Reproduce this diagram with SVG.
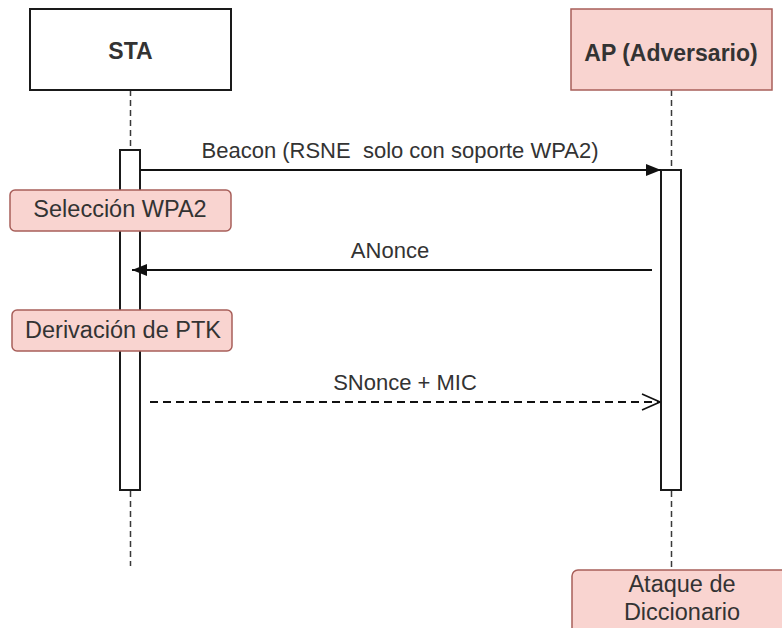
<svg xmlns="http://www.w3.org/2000/svg" width="782" height="628" viewBox="0 0 782 628">
  <style>
    text { font-family: "Liberation Sans", Arial, sans-serif; fill: #333333; text-anchor: middle; }
    .head { font-size: 23px; font-weight: bold; }
    .msg { font-size: 22px; }
    .note-t { font-size: 23.5px; }
    .box { fill: #ffffff; stroke: #1a1a1a; stroke-width: 2; }
    .pink { fill: #f9d4d0; stroke: #a85f5a; stroke-width: 1.5; }
    .life { stroke: #3a3a3a; stroke-width: 1.5; stroke-dasharray: 6 4; fill: none; }
    .act { fill: #ffffff; stroke: #1a1a1a; stroke-width: 2; }
    .solid { stroke: #111111; stroke-width: 2; fill: none; }
    .dashed { stroke: #111111; stroke-width: 2; fill: none; stroke-dasharray: 8 5; }
  </style>
  <defs>
    <marker id="block" viewBox="0 0 15 12" refX="15" refY="6" markerWidth="15" markerHeight="12" markerUnits="userSpaceOnUse" orient="auto">
      <path d="M0,0 L15,6 L0,12 Z" fill="#111111"/>
    </marker>
    <marker id="open" viewBox="0 0 20 18" refX="19" refY="9" markerWidth="20" markerHeight="18" markerUnits="userSpaceOnUse" orient="auto">
      <path d="M1,1 L19,9 L1,17" fill="none" stroke="#111111" stroke-width="1.6"/>
    </marker>
  </defs>

  <rect width="782" height="628" fill="#ffffff"/>

  <!-- lifelines -->
  <g id="lifelines">
    <line class="life" x1="130.5" y1="90" x2="130.5" y2="150"/>
    <line class="life" x1="130.5" y1="491" x2="130.5" y2="566"/>
    <line class="life" x1="671.5" y1="90" x2="671.5" y2="170"/>
    <line class="life" x1="671.5" y1="491" x2="671.5" y2="570"/>
  </g>

  <!-- participants -->
  <g id="sta">
    <rect class="box" x="30" y="9" width="201" height="81"/>
    <text class="head" x="130.5" y="59">STA</text>
  </g>
  <g id="ap">
    <rect class="pink" x="571" y="9" width="201" height="81"/>
    <text class="head" x="671" y="61">AP (Adversario)</text>
  </g>

  <!-- activation bars -->
  <g id="sta-activation">
    <rect class="act" x="120" y="150" width="20" height="340"/>
  </g>
  <g id="ap-activation">
    <rect class="act" x="661" y="170" width="20" height="320"/>
  </g>

  <!-- notes -->
  <g id="note-seleccion">
    <rect class="pink" x="10" y="190" width="221" height="41" rx="5"/>
    <text class="note-t" x="120" y="217">Selección WPA2</text>
  </g>
  <g id="note-derivacion">
    <rect class="pink" x="12" y="310" width="220" height="41" rx="5"/>
    <text class="note-t" x="123" y="337.5">Derivación de PTK</text>
  </g>
  <g id="note-ataque">
    <rect class="pink" x="572" y="570" width="220" height="64" rx="6"/>
    <text class="note-t" x="682" y="592">Ataque de</text>
    <text class="note-t" x="682" y="620">Diccionario</text>
  </g>

  <!-- messages -->
  <g id="connectors">
    <line class="solid" x1="140" y1="170" x2="661" y2="170" marker-end="url(#block)"/>
    <text class="msg" x="400" y="158">Beacon (RSNE&#160; solo con soporte WPA2)</text>

    <line class="solid" x1="652" y1="270" x2="132" y2="270" marker-end="url(#block)"/>
    <text class="msg" x="390" y="258">ANonce</text>

    <line class="dashed" x1="150" y1="402" x2="660" y2="402" marker-end="url(#open)"/>
    <text class="msg" x="405" y="390">SNonce + MIC</text>
  </g>
</svg>
